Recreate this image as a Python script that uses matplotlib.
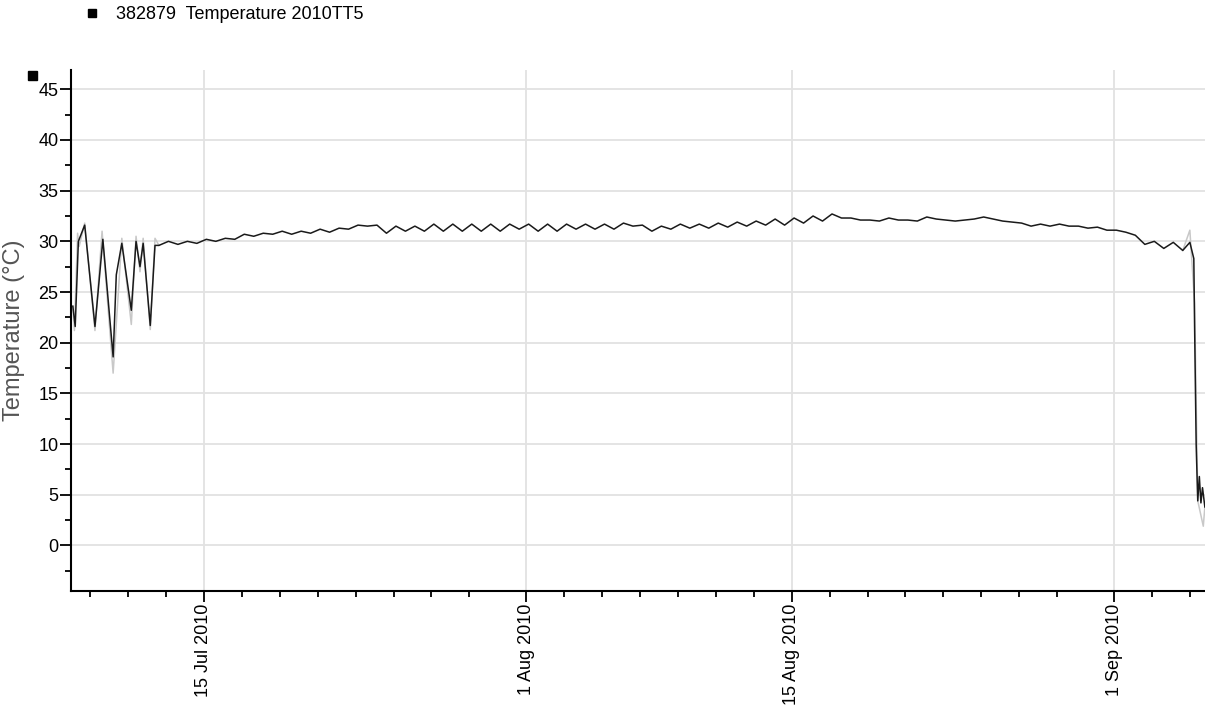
import matplotlib
matplotlib.use('Agg')

import matplotlib.dates as mdates
import matplotlib.pyplot as plt
import pandas as pd
from matplotlib.lines import Line2D
from matplotlib.patches import Rectangle
from matplotlib.ticker import MultipleLocator


SERIES_NAME = '382879  Temperature 2010TT5'
Y_LABEL = 'Temperature (°C)'

# readings while the logger was still in the air, before deployment
early_times = ['2010-07-08 02:00', '2010-07-08 05:00', '2010-07-08 09:00', '2010-07-08 17:00',
               '2010-07-09 06:00', '2010-07-09 16:00', '2010-07-10 05:00', '2010-07-10 09:00',
               '2010-07-10 16:00', '2010-07-11 04:00', '2010-07-11 10:00', '2010-07-11 15:00',
               '2010-07-11 19:00', '2010-07-12 04:00', '2010-07-12 10:00']
early_temp = [23.6, 21.6, 30.0, 31.6,
              21.6, 30.2, 18.6, 26.7,
              29.8, 23.2, 30.0, 27.5,
              29.8, 21.7, 29.6]

# twice daily (03:00 / 15:00) once settled; July starts 12 Jul 15:00
jul_temp = [29.6,
            30.0, 29.7, 30.0, 29.8, 30.2, 30.0, 30.3, 30.2, 30.7, 30.5,
            30.8, 30.7, 31.0, 30.7, 31.0, 30.8, 31.2, 30.9, 31.3, 31.2,
            31.6, 31.5, 31.6, 30.8, 31.5, 31.0, 31.5, 31.0, 31.7, 31.0,
            31.7, 31.0, 31.7, 31.0, 31.7, 31.0, 31.7, 31.2]
aug_temp = [31.7, 31.0, 31.7, 31.0, 31.7, 31.2, 31.7, 31.2, 31.7, 31.2,
            31.8, 31.5, 31.6, 31.0, 31.5, 31.2, 31.7, 31.3, 31.7, 31.3,
            31.8, 31.4, 31.9, 31.5, 32.0, 31.6, 32.2, 31.6, 32.3, 31.8,
            32.5, 32.0, 32.7, 32.3, 32.3, 32.1, 32.1, 32.0, 32.3, 32.1,
            32.1, 32.0, 32.4, 32.2, 32.1, 32.0, 32.1, 32.2, 32.4, 32.2,
            32.0, 31.9, 31.8, 31.5, 31.7, 31.5, 31.7, 31.5, 31.5, 31.3,
            31.4, 31.1]
sep_temp = [31.1, 30.9, 30.6, 29.7, 30.0, 29.3, 29.9, 29.1]

# logger pulled out on 5 Sep
end_times = ['2010-09-05 00:00', '2010-09-05 05:00', '2010-09-05 06:00', '2010-09-05 08:00',
             '2010-09-05 10:00', '2010-09-05 12:00', '2010-09-05 14:00', '2010-09-05 16:00',
             '2010-09-05 19:00']
end_temp = [29.9, 28.3, 21.6, 9.9, 4.4, 6.8, 4.2, 5.7, 3.8]

# min/max envelope drawn in light grey behind the main trace
env_times = ['2010-07-08 02:00', '2010-07-08 04:00', '2010-07-08 08:00', '2010-07-08 10:00',
             '2010-07-08 17:00', '2010-07-09 06:00', '2010-07-09 15:00', '2010-07-10 05:00',
             '2010-07-10 16:00', '2010-07-11 04:00', '2010-07-11 10:00', '2010-07-11 15:00',
             '2010-07-11 19:00', '2010-07-12 04:00', '2010-07-12 10:00', '2010-07-12 15:00']
env_temp = [23.6, 21.2, 30.8, 29.5,
            31.8, 21.2, 31.0, 17.0,
            30.3, 21.8, 30.5, 27.0,
            30.3, 21.3, 30.3, 29.6]
env_end_times = ['2010-09-04 15:00', '2010-09-05 00:00', '2010-09-05 06:00', '2010-09-05 10:00',
                 '2010-09-05 17:00', '2010-09-05 19:00']
env_end_temp = [29.1, 31.1, 23.9, 4.4, 1.9, 3.8]

W, H = 1205, 706


def build_series():
    jul_idx = pd.date_range('2010-07-12 15:00', periods=len(jul_temp), freq='12h')
    aug_idx = pd.date_range('2010-08-01 03:00', periods=len(aug_temp), freq='12h')
    sep_idx = pd.date_range('2010-09-01 03:00', periods=len(sep_temp), freq='12h')
    times = pd.to_datetime(early_times).append([jul_idx, aug_idx, sep_idx, pd.to_datetime(end_times)])
    temps = early_temp + jul_temp + aug_temp + sep_temp + end_temp
    return pd.Series(temps, index=times)


def main():
    plt.rcParams['font.family'] = ['Liberation Sans', 'DejaVu Sans']
    series = build_series()

    fig = plt.figure(figsize=(W / 100, H / 100), dpi=100)
    ax = fig.add_axes([71 / W, 1 - 591 / H, 1 - 71 / W, (591 - 70) / H])

    ax.plot(pd.to_datetime(env_times), env_temp, color='#c8c8c8', lw=1.1)
    ax.plot(pd.to_datetime(env_end_times), env_end_temp, color='#c8c8c8', lw=1.1)
    ax.plot(series.index, series.values, color='#1a1a1a', lw=1.1)

    ax.set_xlim(pd.Timestamp('2010-07-07 23:40'), pd.Timestamp('2010-09-05 19:10'))
    ax.set_ylim(-4.49, 46.9)

    ax.yaxis.set_major_locator(MultipleLocator(5))
    ax.yaxis.set_minor_locator(MultipleLocator(2.5))
    ax.xaxis.set_major_locator(mdates.DayLocator(bymonthday=[1, 15]))
    ax.xaxis.set_minor_locator(mdates.DayLocator(bymonthday=range(1, 30, 2)))
    ax.xaxis.set_major_formatter(mdates.DateFormatter('%-d %b %Y'))

    ax.tick_params(which='major', length=8, width=1.3, labelsize=13, pad=1, colors='black')
    ax.tick_params(which='minor', length=4, width=1.3)
    ax.tick_params(axis='x', labelrotation=90)

    ax.grid(True, which='major', color='#e2e2e2', lw=1.3)
    ax.set_axisbelow(True)
    for side in ('top', 'right'):
        ax.spines[side].set_visible(False)
    for side in ('left', 'bottom'):
        ax.spines[side].set_linewidth(1.5)

    ax.set_ylabel(Y_LABEL, fontsize=17, color='#555555')
    ax.yaxis.set_label_coords(-46 / (W - 71), 0.5)

    handle = Line2D([], [], marker='s', ls='none', color='black', markersize=6)
    fig.legend(handles=[handle], labels=[SERIES_NAME], loc='upper left',
               bbox_to_anchor=(83 / W, 1 - 6 / H), frameon=False, fontsize=13,
               handlelength=1, handletextpad=0.85, borderpad=0, borderaxespad=0)

    fig.add_artist(Rectangle((28 / W, 1 - 80 / H), 9 / W, 9 / H,
                             transform=fig.transFigure, color='black'))

    fig.savefig('out.png', dpi=100)
    plt.close(fig)


if __name__ == '__main__':
    main()
